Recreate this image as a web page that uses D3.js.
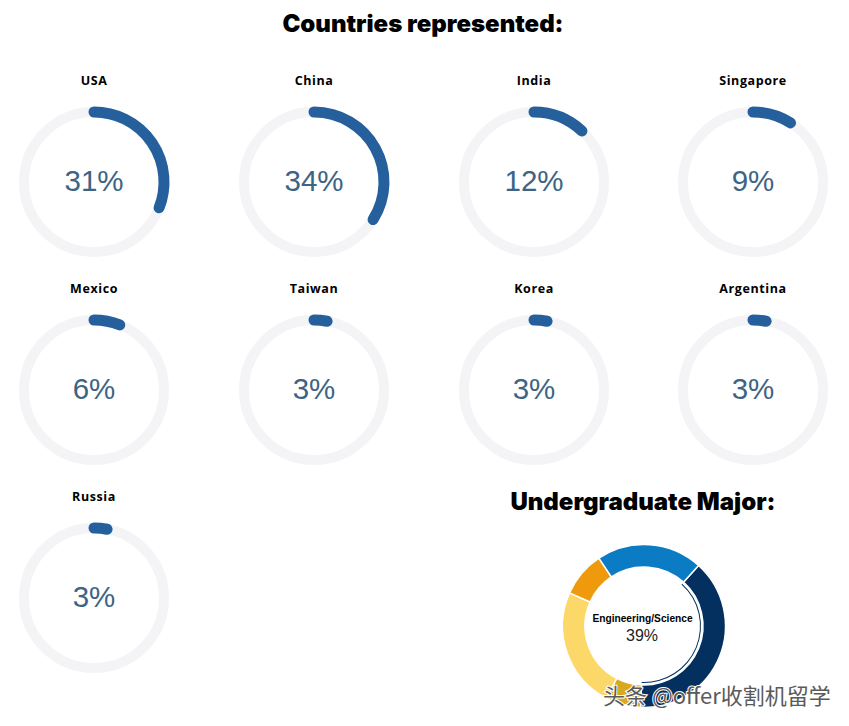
<!DOCTYPE html>
<html>
<head>
<meta charset="utf-8">
<script src="https://cdn.jsdelivr.net/npm/d3@7"></script>
<style>
body { margin: 0; background: #fff; }
svg { display: block; }
.title { font-family: Inter, sans-serif; font-weight: 900; font-size: 24px; fill: #000; text-anchor: middle; }
.country { font-family: "Open Sans", sans-serif; font-weight: 700; font-size: 12.5px; letter-spacing: 0.6px; fill: #000; text-anchor: middle; }
.pct { font-family: "Liberation Sans", Arial, sans-serif; font-size: 29.5px; fill: #3d6484; text-anchor: middle; }
</style>
</head>
<body>
<svg id="chart" width="849" height="726"></svg>
<script>
var countries = ['USA','China','India','Singapore','Mexico','Taiwan','Korea','Argentina','Russia'];
var shares = [31,34,12,9,6,3,3,3,3];
var colCenters = [94,314,534,753];
var rowCenters = [182,390,598];

var majors = ['Engineering/Science','Other','Humanities','Law','Business'];
var majorShares = [39,7,24,9,21];
var majorColors = ['#03305f','#d9a81e','#fbd868','#ee9a0c','#0b7cc4'];

var svg = d3.select('#chart');
var tau = Math.PI * 2;

svg.append('text').attr('class','title').attr('x',423).attr('y',32).text('Countries represented:');
svg.append('text').attr('class','title').attr('x',643).attr('y',510).text('Undergraduate Major:');

var angle = d3.scaleLinear().domain([0,100]).range([-Math.PI / 2, tau - Math.PI / 2]);

function ringPath(d) {
    var p = d3.path();
    p.arc(0, 0, 70, angle(0), angle(d));
    return p.toString();
}

var gauges = svg.selectAll('.gauge').data(shares).enter().append('g')
    .attr('class','gauge')
    .attr('transform',function(d,i) {
        return 'translate(' + colCenters[i % 4] + ',' + rowCenters[Math.floor(i / 4)] + ')';
    });

gauges.append('circle')
    .attr('r',70)
    .style('fill','none')
    .style('stroke','#f4f4f6')
    .style('stroke-width',10);

gauges.append('path')
    .attr('d',ringPath)
    .style('fill','none')
    .style('stroke','#26609c')
    .style('stroke-width',11)
    .style('stroke-linecap','round');

gauges.append('text').attr('class','pct').attr('y',8.5).text(function(d) { return d + '%'; });
gauges.append('text').attr('class','country').attr('y',-97.5)
    .text(function(d,i) { return countries[i]; });

// undergraduate donut
var donut = svg.append('g').attr('transform','translate(644,626)');
var startA = 42 / 360 * tau;
var pie = d3.pie().sort(null).startAngle(startA).endAngle(startA + tau);
var arc = d3.arc().innerRadius(59).outerRadius(81.5);

donut.selectAll('path.slice').data(pie(majorShares)).enter().append('path')
    .attr('class','slice')
    .attr('d',arc)
    .style('fill',function(d,i) { return majorColors[i]; })
    .style('stroke','#fff')
    .style('stroke-width',1.5);

// thin line under the highlighted slice
var hi = pie(majorShares)[0];
donut.append('path')
    .attr('d',d3.arc().innerRadius(56).outerRadius(57)(hi))
    .style('fill','#03305f');

donut.append('text').attr('x',-1.5).attr('y',-4)
    .style('font-family','"Liberation Sans", Arial, sans-serif')
    .style('font-weight',700).style('font-size','10.2px').style('text-anchor','middle').style('fill','#000')
    .text(majors[0]);
donut.append('text').attr('x',-2).attr('y',15)
    .style('font-family','"Liberation Sans", Arial, sans-serif')
    .style('font-size','16px').style('text-anchor','middle').style('fill','#222')
    .text(majorShares[0] + '%');

// watermark
svg.append('text').attr('x',603).attr('y',704)
    .style('font-family','"Noto Sans CJK SC", sans-serif')
    .style('font-size','22px')
    .style('fill','#5a5a5a')
    .style('stroke','#fff')
    .style('stroke-width',2)
    .style('paint-order','stroke')
    .text('头条 @offer收割机留学');
</script>
</body>
</html>
